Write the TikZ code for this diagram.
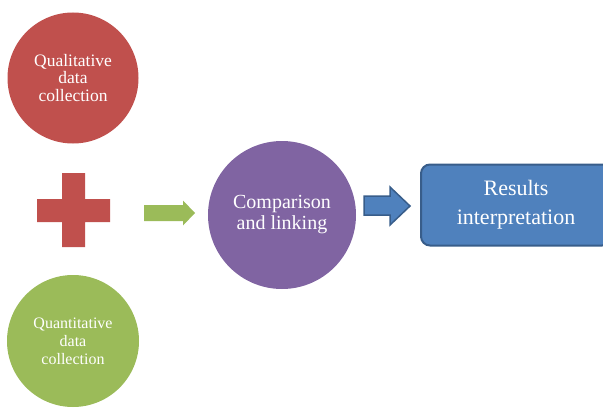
\documentclass[tikz,border=0pt]{standalone}
\usepackage{fontspec}
\setmainfont{Liberation Serif}
\definecolor{qualred}{HTML}{C0504D}
\definecolor{quangreen}{HTML}{9BBB59}
\definecolor{linkpurple}{HTML}{8064A2}
\definecolor{resblue}{HTML}{4F81BD}
\definecolor{resborder}{HTML}{385D8A}
\begin{document}
\begin{tikzpicture}[x=1pt,y=-1pt]
\clip (0,0) rectangle (603,412);
% Data collection nodes
\node[circle,fill=qualred,text=white,inner sep=0pt,minimum size=131pt,align=center,font=\fontsize{17.5}{17.5}\selectfont] (qual) at (73,78) {Qualitative\\data\\collection};
\node[circle,fill=quangreen,text=white,inner sep=0pt,minimum size=132pt,align=center,font=\fontsize{16}{18}\selectfont] (quan) at (73,341) {Quantitative\\data\\collection};

% Plus sign
\fill[qualred] (37,199) -- (62,199) -- (62,173) -- (85,173) -- (85,199) -- (110,199) -- (110,222) -- (85,222) -- (85,247) -- (62,247) -- (62,222) -- (37,222) -- cycle;

% Linking node
\node[circle,fill=linkpurple,text=white,inner sep=0pt,minimum size=148pt,align=center,font=\fontsize{20}{21}\selectfont] (link) at (282,215) {Comparison\\and linking};

% Results node
\node[rectangle,rounded corners=9pt,fill=resblue,draw=resborder,line width=2pt,text=white,minimum width=190pt,minimum height=81pt,align=center,font=\fontsize{22}{29}\selectfont] (res) at (516,205) {Results\\interpretation};

% Block arrows
\fill[quangreen] (144,205) -- (183,205) -- (183,200.5) -- (195,213) -- (183,225.5) -- (183,221) -- (144,221) -- cycle;
\filldraw[fill=resblue,draw=resborder,line width=1.5pt,line join=miter] (364,196) -- (390,196) -- (390,187) -- (410,206) -- (390,225) -- (390,215) -- (364,215) -- cycle;

\end{tikzpicture}
\end{document}
